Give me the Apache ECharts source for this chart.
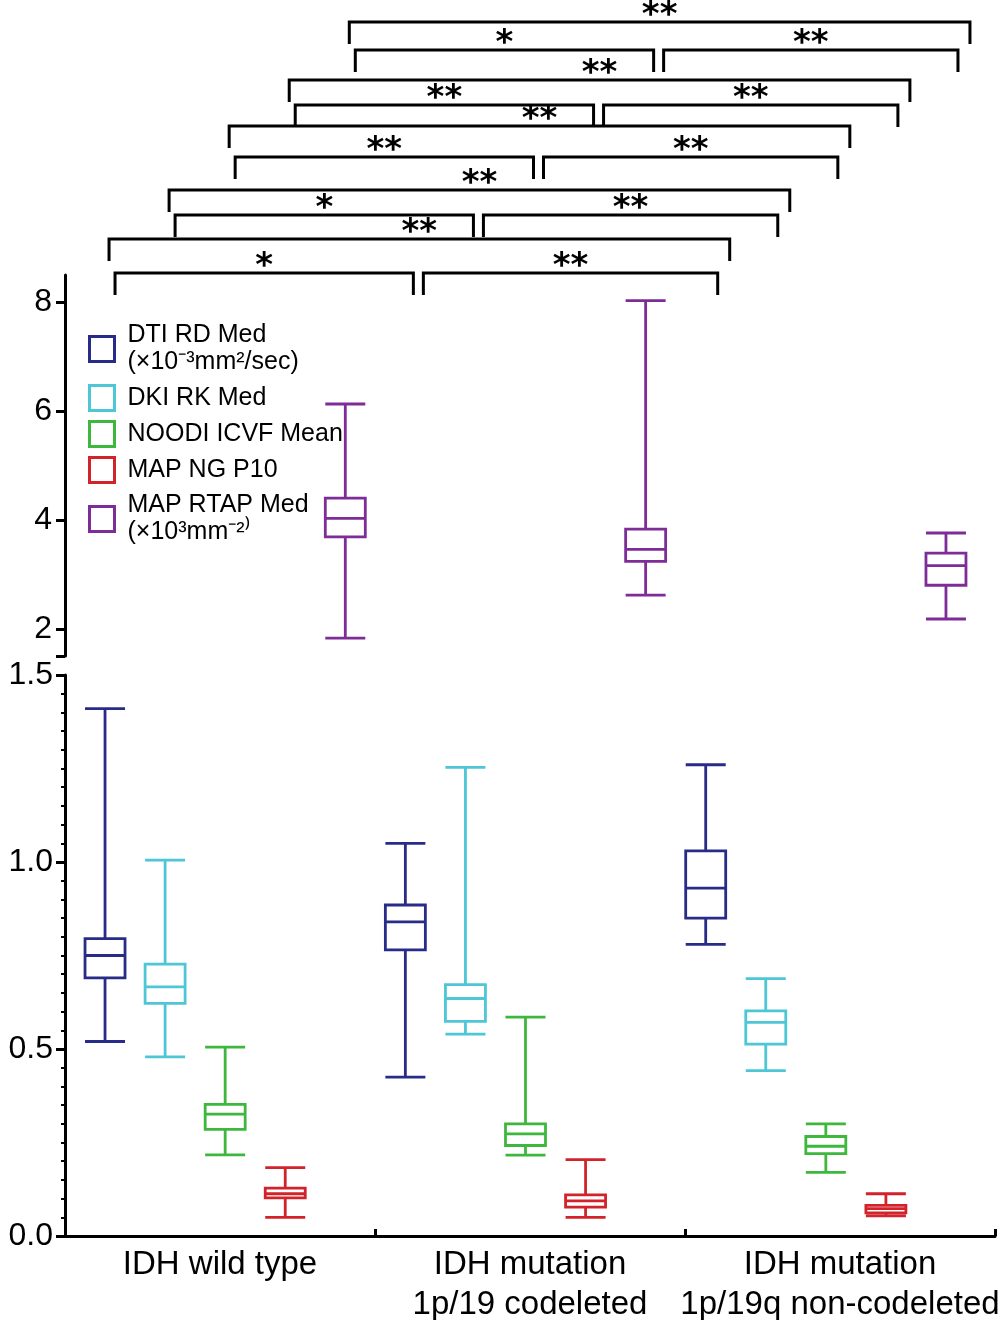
<!DOCTYPE html>
<html><head><meta charset="utf-8">
<script src="https://cdn.jsdelivr.net/npm/echarts@6/dist/echarts.min.js"></script>
<style>html,body{margin:0;padding:0;background:#fff}#c{width:1000px;height:1320px}</style>
</head><body><div id="c"></div>
<script>
// ---------- data ----------
const groups = ['IDH wild type', 'IDH mutation\n1p/19 codeleted', 'IDH mutation\n1p/19q non-codeleted'];
const metrics = ['DTI RD Med', 'DKI RK Med', 'NOODI ICVF Mean', 'MAP NG P10', 'MAP RTAP Med'];
const metricUnits = ['(×10⁻³mm²/sec)', '', '', '', '(×10³mm⁻²⁾'];
// [min, Q1, median, Q3, max] for each group
const dtiRdMed     = [[0.520, 0.690, 0.750, 0.795, 1.410], [0.425, 0.765, 0.840, 0.885, 1.050], [0.780, 0.850, 0.930, 1.030, 1.260]];
const dkiRkMed     = [[0.479, 0.622, 0.666, 0.727, 1.005], [0.540, 0.574, 0.635, 0.672, 1.253], [0.442, 0.513, 0.571, 0.602, 0.688]];
const noddiIcvf    = [[0.217, 0.285, 0.326, 0.352, 0.505], [0.216, 0.242, 0.273, 0.300, 0.585], [0.170, 0.220, 0.240, 0.266, 0.300]];
const mapNgP10     = [[0.050, 0.102, 0.113, 0.128, 0.183], [0.050, 0.077, 0.094, 0.110, 0.204], [0.054, 0.062, 0.073, 0.082, 0.113]];
const mapRtapMed   = [[1.83, 3.69, 4.03, 4.40, 6.13], [2.62, 3.24, 3.46, 3.83, 8.03], [2.18, 2.80, 3.16, 3.39, 3.76]];
const lowerAxisRange = [0, 1.5];
const upperAxisRange = [1.5, 8.5];
const upperTickLabels = [2, 4, 6, 8];
// significance brackets: [metric, fromGroup, toGroup, height level, label]
const brackets = [
  [0, 0, 1, 0.00, '*'],  [0, 1, 2, 0.00, '**'], [0, 0, 2, 1.35, '**'],
  [1, 0, 1, 2.31, '*'],  [1, 1, 2, 2.31, '**'], [1, 0, 2, 3.31, '**'],
  [2, 0, 1, 4.62, '**'], [2, 1, 2, 4.62, '**'], [2, 0, 2, 5.86, '**'],
  [3, 0, 1, 6.69, '**'], [3, 1, 2, 6.69, '**'], [3, 0, 2, 7.69, '**'],
  [4, 0, 1, 8.88, '*'],  [4, 1, 2, 8.88, '**'], [4, 0, 2, 10.0, '**']
];
const bracketLevelRange = [0, 10];

// ---------- styles ----------
const colors = ['#282c88', '#4dc6d6', '#3db83d', '#d2232b', '#7d2c98'];
const FONT = '"Liberation Sans", Arial, sans-serif';
const seriesValues = [dtiRdMed, dkiRkMed, noddiIcvf, mapNgP10, mapRtapMed];
const slots = [];
groups.forEach(g => metrics.forEach(m => slots.push(g + '|' + m)));
const nM = metrics.length;

const chart = echarts.init(document.getElementById('c'), null, {renderer: 'canvas'});

const hiddenCat = (gridIndex) => ({
  type: 'category', gridIndex, data: slots, show: false, boundaryGap: true
});

const xAxes = [
  hiddenCat(0), hiddenCat(0), hiddenCat(0), hiddenCat(0),           // 0-3 lower boxes
  { type: 'category', gridIndex: 1, data: groups, boundaryGap: true,  // 4 visible
    axisLine: {lineStyle: {color: '#000', width: 3}},
    axisTick: {show: true, inside: true, length: 7, lineStyle: {color: '#000', width: 3}},
    axisLabel: {color: '#000', fontSize: 33, lineHeight: 40, margin: 9, fontFamily: FONT, interval: 0}
  },
  hiddenCat(2),                                                     // 5 upper boxes
  hiddenCat(3)                                                      // 6 brackets
];

const yAxes = [
  { type: 'value', gridIndex: 0, min: lowerAxisRange[0], max: lowerAxisRange[1], interval: 0.5, offset: 10,
    splitLine: {show: false},
    axisLine: {show: true, lineStyle: {color: '#000', width: 3}},
    axisTick: {show: true, length: 9, lineStyle: {color: '#000', width: 3}},
    minorTick: {show: true, splitNumber: 10, length: 4, lineStyle: {color: '#000', width: 2}},
    axisLabel: {color: '#000', fontSize: 32, margin: 12, fontFamily: FONT, formatter: v => v.toFixed(1)}
  },
  { type: 'value', gridIndex: 1, min: lowerAxisRange[0], max: lowerAxisRange[1], show: false },
  { type: 'value', gridIndex: 2, min: upperAxisRange[0], max: upperAxisRange[1], offset: 10,
    splitLine: {show: false},
    axisLine: {show: true, lineStyle: {color: '#000', width: 3}},
    axisTick: {show: true, length: 9, customValues: [upperAxisRange[0]].concat(upperTickLabels), lineStyle: {color: '#000', width: 3}},
    axisLabel: {color: '#000', fontSize: 32, margin: 13, fontFamily: FONT, customValues: upperTickLabels}
  },
  { type: 'value', gridIndex: 3, min: bracketLevelRange[0], max: bracketLevelRange[1], show: false }
];

const series = seriesValues.map((vals, m) => ({
  type: 'boxplot',
  name: metrics[m],
  xAxisIndex: m < 4 ? m : 5,
  yAxisIndex: m < 4 ? 0 : 2,
  boxWidth: [40, 40],
  silent: true,
  emphasis: {disabled: true},
  encode: {x: 0, y: [1, 2, 3, 4, 5]},
  data: vals.map((v, g) => [g * nM + m].concat(v)),
  itemStyle: {color: '#fff', borderColor: colors[m], borderWidth: 2.8}
}));

series.push({
  type: 'custom',
  xAxisIndex: 6, yAxisIndex: 3,
  silent: true,
  clip: false,
  encode: {x: [0, 2], y: 1},
  data: brackets.map(b => [b[1] * nM + b[0], b[3], b[2] * nM + b[0]]),
  renderItem: function (params, api) {
    const b = brackets[params.dataIndex];
    const p1 = api.coord([api.value(0), api.value(1)]);
    const p2 = api.coord([api.value(2), api.value(1)]);
    let off;
    if (b[2] - b[1] === 2) off = [4, 24];
    else if (b[1] === 0) off = [10, 8];
    else off = [18, 12];
    const x1 = p1[0] + off[0], x2 = p2[0] + off[1], y = p1[1];
    const tick = 22;
    return {
      type: 'group',
      children: [
        {type: 'polyline', shape: {points: [[x1, y + tick], [x1, y], [x2, y], [x2, y + tick]]},
          style: {stroke: '#000', lineWidth: 3, fill: null}},
        {type: 'text', x: (x1 + x2) / 2, y: y - 6,
          style: {text: b[4], fill: '#000', font: 'bold 34px "DejaVu Sans"', align: 'center', verticalAlign: 'middle'}}
      ]
    };
  }
});

const gridCommon = {outerBoundsMode: 'none', containLabel: false};
const option = {
  animation: false,
  backgroundColor: '#fff',
  grid: [
    Object.assign({left: 75, width: 901, top: 675, height: 561}, gridCommon),   // 0 lower boxes
    Object.assign({left: 65, width: 930, top: 675, height: 561}, gridCommon),   // 1 lower visible x axis
    Object.assign({left: 75, width: 901, top: 275, height: 381}, gridCommon),   // 2 upper boxes
    Object.assign({left: 75, width: 901, top: 22, height: 251}, gridCommon)     // 3 brackets
  ],
  xAxis: xAxes,
  yAxis: yAxes,
  legend: {
    orient: 'vertical', left: 88, top: 322, padding: 0,
    itemWidth: 25, itemHeight: 25, itemGap: 8,
    icon: 'rect',
    selectedMode: false,
    data: metrics.map((m, i) => ({name: m, itemStyle: {color: '#fff', borderColor: colors[i], borderWidth: 3}})),
    formatter: name => {
      const u = metricUnits[metrics.indexOf(name)];
      return u ? name + '\n' + u : name;
    },
    textStyle: {color: '#000', fontSize: 25, lineHeight: 27, fontFamily: FONT, padding: [0, 0, 0, 8]}
  },
  series: series
};
chart.setOption(option);
</script>
</body></html>
